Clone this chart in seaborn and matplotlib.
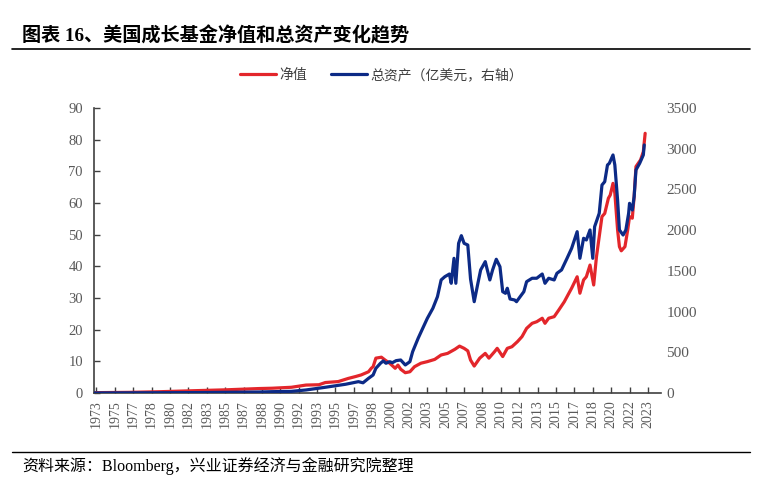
import matplotlib
matplotlib.use("Agg")
import matplotlib.pyplot as plt
import seaborn as sns
import pandas as pd
from matplotlib.lines import Line2D
from matplotlib.font_manager import FontProperties

# -----------------------------
# Data (month index, 0 = first tick label)
# -----------------------------
nav_month = [-2, 36, 69, 104, 141, 177, 191, 212, 228, 242, 249, 263, 274, 282, 288,
             296, 299, 301, 304, 310, 314, 319, 325, 328, 331, 336, 341, 346, 353, 360,
             368, 375, 382, 390, 395, 400, 404, 407, 411, 417, 423, 427, 433, 436, 442,
             447, 452, 458, 463, 468, 474, 479, 485, 488, 492, 498, 503, 509, 514, 517,
             523, 526, 530, 533, 537, 541, 544, 550, 553, 557, 559, 562, 564, 567, 569,
             571, 575, 578, 580, 583, 585, 587, 592, 595, 597]
nav_value = [0.1, 0.2, 0.4, 0.7, 1.0, 1.4, 1.5, 1.8, 2.5, 2.6, 3.3, 3.6, 4.6, 5.2, 5.7,
             6.7, 7.8, 8.3, 11.0, 11.3, 10.4, 9.4, 7.8, 8.8, 7.5, 6.4, 6.7, 8.3, 9.4, 9.9,
             10.6, 12.0, 12.5, 13.8, 14.8, 14.1, 13.3, 10.4, 8.5, 11.0, 12.5, 11.0, 13.0, 14.1, 11.5,
             14.1, 14.6, 16.2, 17.8, 20.4, 22.0, 22.5, 23.6, 22.0, 23.6, 24.1, 26.2, 28.8, 31.5, 33.1,
             36.7, 31.5, 35.7, 36.7, 40.4, 34.1, 43.0, 55.7, 56.7, 61.5, 62.5, 66.2, 63.1, 51.5, 46.2,
             44.9, 46.2, 51.5, 55.7, 55.2, 62.0, 71.5, 73.6, 76.2, 82.0]

aum_month = [-2, 112, 141, 177, 191, 212, 228, 249, 271, 285, 290, 296, 301, 304, 309,
             312, 315, 319, 322, 326, 331, 336, 341, 344, 350, 355, 360, 366, 371, 375,
             379, 384, 386, 389, 391, 394, 397, 400, 404, 407, 411, 415, 418, 423, 428,
             431, 435, 439, 442, 445, 447, 450, 455, 457, 461, 465, 468, 474, 479, 485,
             488, 492, 498, 501, 506, 512, 517, 520, 523, 526, 530, 533, 537, 540, 542,
             547, 550, 553, 556, 558, 562, 564, 567, 569, 573, 576, 579, 580, 583, 585,
             587, 591, 595, 596]
aum_value = [0, 5, 8, 12, 16, 20, 37, 70, 107, 139, 125, 180, 221, 303, 365,
             393, 365, 384, 372, 397, 405, 344, 384, 507, 672, 795, 917, 1040, 1183, 1388,
             1428, 1461, 1347, 1654, 1347, 1838, 1932, 1838, 1817, 1400, 1121, 1347, 1511, 1613, 1388,
             1511, 1642, 1551, 1244, 1224, 1286, 1154, 1142, 1121, 1183, 1244, 1367, 1409, 1409, 1461,
             1347, 1409, 1388, 1470, 1511, 1654, 1777, 1879, 1981, 1654, 1900, 1879, 2002, 1654, 2042,
             2206, 2554, 2595, 2800, 2820, 2923, 2800, 2370, 2002, 1940, 2002, 2206, 2329, 2247, 2411,
             2739, 2820, 2923, 3046]

tick_labels = ['1973', '1975', '1977', '1978', '1980', '1982', '1983', '1985', '1987',
               '1988', '1990', '1992', '1993', '1995', '1997', '1998', '2000', '2002',
               '2003', '2005', '2007', '2008', '2010', '2012', '2013', '2015', '2017',
               '2018', '2020', '2022', '2023']

nav_df = pd.DataFrame({'month': nav_month, 'nav': nav_value})
aum_df = pd.DataFrame({'month': aum_month, 'aum': aum_value})

# -----------------------------
# Style
# -----------------------------
sns.set_theme(style='white')
plt.rcParams['font.family'] = ['Liberation Serif', 'Noto Sans CJK SC', 'DejaVu Sans']
cjk = ['Liberation Serif', 'Noto Sans CJK SC']
red = '#E3262B'
blue = '#0C2A86'
grey = '#595959'
axis_col = '#404040'

fig = plt.figure(figsize=(7.68, 4.94), dpi=100)
ax = fig.add_axes([0.1224, 0.2045, 0.738, 0.5769])
ax2 = ax.twinx()

sns.lineplot(data=nav_df, x='month', y='nav', ax=ax, color=red, linewidth=2.3)
sns.lineplot(data=aum_df, x='month', y='aum', ax=ax2, color=blue, linewidth=2.3)

ax.set_xlim(-2.7, 614)
ax.set_ylim(0, 90)
ax2.set_ylim(0, 3500)
ax.set_xticks(range(0, 601, 20))
ax.set_xticklabels(tick_labels, rotation=90)
ax.set_yticks(range(0, 91, 10))
ax2.set_yticks(range(0, 3501, 500))
ax.set_xlabel('')
ax.set_ylabel('')
ax2.set_ylabel('')

for a in (ax, ax2):
    a.spines['top'].set_visible(False)
    a.spines['right'].set_visible(False)
    a.grid(False)
ax2.spines['left'].set_visible(False)
ax2.spines['bottom'].set_visible(False)
ax.spines['left'].set_color(axis_col)
ax.spines['bottom'].set_color(axis_col)
ax.spines['left'].set_linewidth(1.2)
ax.spines['bottom'].set_linewidth(1.2)

ax.tick_params(axis='x', direction='in', length=4, width=1, color=axis_col,
               labelsize=10, labelcolor=grey, pad=5, bottom=True)
ax.tick_params(axis='y', direction='in', length=4, width=1, color=axis_col,
               labelsize=10.5, labelcolor=grey, pad=8, left=True)
ax2.tick_params(axis='y', length=0, labelsize=11, labelcolor=grey, pad=4)

# legend
handles = [Line2D([0], [0], color=red, lw=2.3), Line2D([0], [0], color=blue, lw=2.3)]
fig.legend(handles, ['净值', '总资产（亿美元，右轴）'], loc='center',
           bbox_to_anchor=(0.497, 0.848), ncol=2, frameon=False,
           prop=FontProperties(family=cjk, size=10), labelcolor='#404040',
           handlelength=2.6, handletextpad=0.25, columnspacing=1.7)

# title, rules and source
fig.text(0.029, 0.927, '图表 16、美国成长基金净值和总资产变化趋势', family=cjk,
         fontsize=13.8, fontweight='bold', color='black', va='center', ha='left')
fig.add_artist(Line2D([0.016, 0.977], [0.901, 0.901], color='black', lw=1.2))
fig.add_artist(Line2D([0.016, 0.977], [0.085, 0.085], color='black', lw=1.0))
fig.text(0.029, 0.057, '资料来源：Bloomberg，兴业证券经济与金融研究院整理', family=cjk,
         fontsize=11.5, color='black', va='center', ha='left')

fig.savefig('out.png', dpi=100)
